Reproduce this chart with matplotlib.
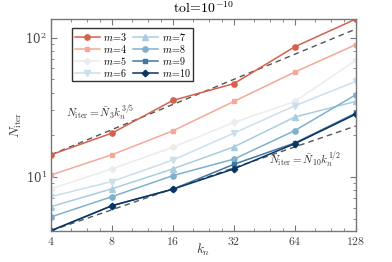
import matplotlib
matplotlib.use('Agg')
import matplotlib.pyplot as plt
import matplotlib.ticker as mticker
import numpy as np

plt.rcParams['mathtext.fontset'] = 'cm'
plt.rcParams['font.family'] = 'serif'
plt.rcParams['font.serif'] = ['DejaVu Serif']

K_N = [4, 8, 16, 32, 64, 128]
M_LABELS = [3, 4, 5, 6, 7, 8, 9, 10]
N_ITER = {
    3:  [14.4, 20.6, 35.4, 46.7, 86.0, 136.0],
    4:  [10.3, 14.4, 21.4, 34.8, 56.6, 89.1],
    5:  [8.2, 11.4, 16.3, 24.6, 34.8, 68.7],
    6:  [7.2, 9.25, 13.2, 20.6, 32.4, 48.5],
    7:  [6.1, 8.2, 11.4, 16.4, 26.9, 34.8],
    8:  [5.15, 7.2, 10.2, 13.4, 21.5, 38.9],
    9:  [4.1, 6.2, 8.15, 12.3, 17.5, 28.7],
    10: [4.1, 6.2, 8.15, 11.4, 17.3, 28.2],
}
# reference slopes: N3 * k^(3/5) and N10 * k^(1/2)
FIT_UPPER = (14.4, 3 / 5)
FIT_LOWER = (4.1, 1 / 2)

COLOURS = ['#d6604d', '#f4a89a', '#ececec', '#c9dfec',
           '#a9cde0', '#7fb0cc', '#3f78a8', '#0b3461']
MARKERS = ['o', 's', 'D', 'v', '^', 'o', 's', 'D']
SPINE_COLOUR = '#777777'

fig = plt.figure(figsize=(3.92, 2.62), dpi=100)
ax = fig.add_axes([0.130, 0.1195, 0.778, 0.808])

k = np.array(K_N, dtype=float)
for n0, p in [FIT_UPPER, FIT_LOWER]:
    ax.plot(k, n0 * (k / K_N[0]) ** p, ls=(0, (4, 3)), color='#555555', lw=1.0, zorder=1)

for m, col, mk in zip(M_LABELS, COLOURS, MARKERS):
    ms = 3.3 if mk in ('D', 's') else 3.8
    ax.plot(K_N, N_ITER[m], color=col, marker=mk, ms=ms, lw=1.1,
            label=r'$m\!=\!%d$' % m, zorder=2)

ax.set_xscale('log', base=2)
ax.set_yscale('log')
ax.set_xlim(4, 128)
ax.set_ylim(4.1, 136)
ax.set_xticks(K_N)
ax.xaxis.set_major_formatter(mticker.FixedFormatter([r'$%d$' % v for v in K_N]))
ax.xaxis.set_minor_locator(mticker.LogLocator(base=2, subs=[1.25, 1.5, 1.75]))
ax.xaxis.set_minor_formatter(mticker.NullFormatter())

for s in ax.spines.values():
    s.set_color(SPINE_COLOUR)
    s.set_linewidth(1.0)
ax.tick_params(which='both', direction='in', top=True, right=True,
               colors=SPINE_COLOUR, labelcolor='#444444', labelsize=8.5)
ax.tick_params(which='major', length=4, pad=3)
ax.tick_params(which='minor', length=2)

ax.set_xlabel(r'$k_n$', fontsize=9.5, color='#333333')
ax.xaxis.set_label_coords(0.5, -0.05)
ax.set_ylabel(r'$N_{\rm iter}$', fontsize=9.5, color='#333333', labelpad=1)
ax.set_title(r'$\mathrm{tol}\!=\!10^{-10}$', fontsize=10, pad=4)

ax.text(7.0, 28.8, r'$N_{\rm iter}=\bar{N}_3 k_n^{3/5}$', fontsize=8,
        color='#333333', ha='center', va='center')
ax.text(71.6, 13.2, r'$N_{\rm iter}=\bar{N}_{10} k_n^{1/2}$', fontsize=8,
        color='#333333', ha='center', va='center')

leg = ax.legend(ncol=2, loc='upper left', bbox_to_anchor=(0.069, 0.957),
                borderaxespad=0, fontsize=7.3, fancybox=False, framealpha=1,
                edgecolor='#333333', handlelength=2.5, columnspacing=0.5,
                labelspacing=0.0, borderpad=0.25, handletextpad=0.35)
leg.get_frame().set_linewidth(1.0)

fig.savefig('out.png', dpi=100)
